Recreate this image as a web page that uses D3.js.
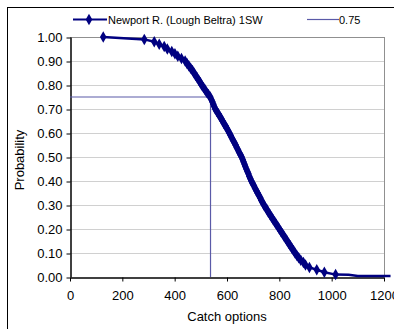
<!DOCTYPE html>
<html><head><meta charset="utf-8">
<script src="https://cdn.jsdelivr.net/npm/d3@7"></script>
<style>body{margin:0;background:#fff;overflow:hidden}svg{display:block;font-family:"Liberation Sans",Arial,sans-serif}</style>
</head><body>
<svg id="c" width="394" height="329"></svg>
<script>
const seriesName = "Newport R. (Lough Beltra) 1SW";
const refName = "0.75";
const catchX = [127,284,322,341,360,372,389,401,412,426,440,447,454,461,468,474,480,486,492,498,503,510,516,522,529,536,540,544,548,551,555,561,567,572,578,583,588,594,599,604,609,614,618,623,628,633,637,642,646,651,656,660,663,667,670,674,678,682,685,689,693,698,703,707,712,717,722,727,731,736,741,747,753,758,764,770,776,782,788,794,800,806,812,818,824,830,836,842,848,854,860,867,874,882,892,900,915,943,972,1015];
const probY = [1.00,0.99,0.98,0.97,0.96,0.95,0.94,0.93,0.92,0.91,0.90,0.89,0.88,0.87,0.86,0.85,0.84,0.83,0.82,0.81,0.80,0.79,0.78,0.77,0.76,0.75,0.74,0.73,0.72,0.71,0.70,0.69,0.68,0.67,0.66,0.65,0.64,0.63,0.62,0.61,0.60,0.59,0.58,0.57,0.56,0.55,0.54,0.53,0.52,0.51,0.50,0.49,0.48,0.47,0.46,0.45,0.44,0.43,0.42,0.41,0.40,0.39,0.38,0.37,0.36,0.35,0.34,0.33,0.32,0.31,0.30,0.29,0.28,0.27,0.26,0.25,0.24,0.23,0.22,0.21,0.20,0.19,0.18,0.17,0.16,0.15,0.14,0.13,0.12,0.11,0.10,0.09,0.08,0.07,0.06,0.05,0.04,0.03,0.02,0.01];
const tailX = [1015,1065,1100,1225];
const tailY = [0.010,0.009,0.004,0.004];
const refX = [0,537,537];
const refY = [0.75,0.75,0];
const xTicks = [0,200,400,600,800,1000,1200];
const yTicks = [0,0.1,0.2,0.3,0.4,0.5,0.6,0.7,0.8,0.9,1.0];

const svg = d3.select("#c");
const L=70,R=384,T=37,B=277;
const x = d3.scaleLinear().domain([0,1200]).range([L,R]);
const y = d3.scaleLinear().domain([0,1]).range([B,T]);

svg.append("rect").attr("x",7.5).attr("y",7.5).attr("width",420).attr("height",360)
  .attr("fill","none").attr("stroke","#000").attr("stroke-width",1);

svg.append("g").selectAll("line").data(yTicks.filter(d=>d>0)).join("line")
  .attr("x1",L).attr("x2",R).attr("y1",d=>Math.round(y(d))+0.5).attr("y2",d=>Math.round(y(d))+0.5)
  .attr("stroke","#d0d0d0").attr("stroke-width",1);
svg.append("line").attr("x1",R+0.5).attr("x2",R+0.5).attr("y1",T).attr("y2",B).attr("stroke","#909090");
svg.append("line").attr("x1",L).attr("x2",R).attr("y1",T+0.5).attr("y2",T+0.5).attr("stroke","#909090");

const yAxis = d3.axisLeft(y).tickValues(yTicks).tickFormat(d3.format(".2f")).tickSize(4).tickSizeOuter(0).tickPadding(4);
const gy = svg.append("g").attr("transform",`translate(${L+0.5},0)`).call(yAxis);
gy.selectAll("line").attr("transform","translate(0,0.5)");
const xAxis = d3.axisBottom(x).tickValues(xTicks).tickFormat(d3.format("d")).tickSize(4).tickSizeOuter(0).tickPadding(9);
const gx = svg.append("g").attr("transform",`translate(0,${B+0.5})`).call(xAxis);
[gy,gx].forEach(g=>{
  g.select(".domain").attr("stroke","#000").attr("stroke-width",1.5);
  g.selectAll(".tick line").attr("stroke","#000");
  g.selectAll("text").attr("font-size",13).attr("fill","#000").attr("font-family","Liberation Sans, Arial, sans-serif");
});

svg.append("text").attr("x",227).attr("y",321).attr("text-anchor","middle").attr("font-size",13).text("Catch options");
svg.append("text").attr("transform","translate(24,160) rotate(-90)").attr("text-anchor","middle").attr("font-size",13).text("Probability");

const line = d3.line().x(d=>x(d[0])).y(d=>y(d[1]));
svg.append("path").datum(refX.map((v,i)=>[v,refY[i]])).attr("d",line)
  .attr("fill","none").attr("stroke","#5a5aa8").attr("stroke-width",1.2);

const pts = catchX.map((v,i)=>[v,probY[i]]);
const tail = tailX.map((v,i)=>[v,tailY[i]]);
svg.append("path").datum(pts.concat(tail.slice(1))).attr("d",line)
  .attr("fill","none").attr("stroke","#000080").attr("stroke-width",2.5);
const diamond = d3.symbol().type(d3.symbolDiamond).size(38);
svg.append("g").selectAll("path").data(pts).join("path")
  .attr("transform",d=>`translate(${x(d[0])},${y(d[1])})`).attr("d",diamond).attr("fill","#000080");

const lg = svg.append("g");
lg.append("line").attr("x1",73).attr("x2",107).attr("y1",19.5).attr("y2",19.5).attr("stroke","#000080").attr("stroke-width",2);
lg.append("path").attr("transform","translate(89,19.5)").attr("d",diamond).attr("fill","#000080");
lg.append("text").attr("x",108).attr("y",23.5).attr("font-size",11).text(seriesName);
lg.append("line").attr("x1",307).attr("x2",339).attr("y1",19.5).attr("y2",19.5).attr("stroke","#5a5aa8").attr("stroke-width",1.2);
lg.append("text").attr("x",339).attr("y",23.5).attr("font-size",11).text(refName);
</script>
</body></html>
